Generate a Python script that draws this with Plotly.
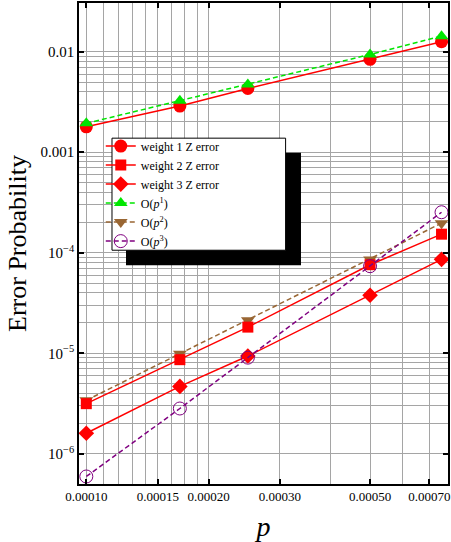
import plotly.graph_objects as go

# ---------------- data ----------------
p_vals = [1.0e-4, 1.7e-4, 2.5e-4, 5.0e-4, 7.5e-4]

weight1 = [1.79e-3, 2.88e-3, 4.31e-3, 8.4e-3, 1.26e-2]
weight2 = [3.15e-6, 8.63e-6, 1.82e-5, 7.6e-5, 1.53e-4]
weight3 = [1.6e-6, 4.68e-6, 9.38e-6, 3.78e-5, 8.6e-5]
order1 = [1.94e-3, 3.25e-3, 4.73e-3, 9.4e-3, 1.43e-2]
order2 = [3.4e-6, 9.9e-6, 2.13e-5, 8.55e-5, 1.97e-4]
order3 = [5.94e-7, 2.82e-6, 9.04e-6, 7.35e-5, 2.53e-4]

x_tick_vals = [1e-4, 1.5e-4, 2e-4, 3e-4, 5e-4, 7e-4]
x_tick_text = ["0.00010", "0.00015", "0.00020", "0.00030", "0.00050", "0.00070"]
x_grid_vals = [1.1e-4, 1.2e-4, 1.3e-4, 1.4e-4, 1.625e-4, 1.75e-4, 1.875e-4, 4e-4, 6e-4]

y_tick_vals = [1e-2, 1e-3, 1e-4, 1e-5, 1e-6]
y_tick_text = ["0.01", "0.001", "10<sup>\u22124</sup>", "10<sup>\u22125</sup>", "10<sup>\u22126</sup>"]
y_grid_vals = [k * 10.0 ** e for e in range(-6, -2) for k in range(2, 10)]

FONT = "Liberation Serif"
RED = "rgb(255,0,0)"
GREEN = "rgb(0,230,0)"
BROWN = "rgb(153,102,51)"
PURPLE = "rgb(128,0,128)"

fig = go.Figure()

def add(name, y, color, symbol, size, dash, rank):
    marker = dict(symbol=symbol, size=size, color=color)
    if symbol.endswith("-open"):
        marker["line"] = dict(color=color, width=1)
    fig.add_trace(go.Scatter(
        x=p_vals, y=y, name=name, mode="lines+markers",
        line=dict(color=color, width=1.5, dash=dash),
        marker=marker, legendrank=rank))

# drawing order (later on top)
add("weight 1 Z error", weight1, RED, "circle", 13, "solid", 1)
add("O(<i>p</i><sup>1</sup>)", order1, GREEN, "triangle-up", 12, "5px,3px", 4)
add("O(<i>p</i><sup>2</sup>)", order2, BROWN, "triangle-down", 12, "5px,3px", 5)
add("weight 2 Z error", weight2, RED, "square", 11, "solid", 2)
add("weight 3 Z error", weight3, RED, "diamond", 12, "solid", 3)
add("O(<i>p</i><sup>3</sup>)", order3, PURPLE, "circle-open", 13, "5px,3px", 6)

GRID = "rgb(165,165,165)"

fig.update_layout(
    width=451, height=542,
    margin=dict(l=79, r=3, t=3, b=58),
    paper_bgcolor="white", plot_bgcolor="white",
    font=dict(family=FONT, color="black"),
    showlegend=True,
    legend=dict(x=0.059, y=0.7326, xanchor="left", yanchor="top",
                bgcolor="rgba(0,0,0,0)", borderwidth=0,
                font=dict(family=FONT, size=12, color="black"),
                itemwidth=30, tracegroupgap=0),
    xaxis=dict(type="log", range=[-4.018, -3.109], automargin=False,
               tickmode="array", tickvals=x_tick_vals, ticktext=x_tick_text,
               tickfont=dict(family=FONT, size=13),
               ticks="inside", ticklen=5, tickwidth=1.5, tickcolor="black",
               showline=True, linecolor="black", linewidth=1.5, mirror="ticks",
               showgrid=True, gridcolor=GRID, gridwidth=1,
               minor=dict(tickmode="array", tickvals=x_grid_vals, showgrid=True,
                          gridcolor=GRID, gridwidth=1, ticks=""),
               zeroline=False,
               title=dict(text="<i>p</i>", font=dict(family=FONT, size=28), standoff=13)),
    yaxis=dict(type="log", range=[-6.301, -1.515], automargin=False,
               tickmode="array", tickvals=y_tick_vals, ticktext=y_tick_text,
               tickfont=dict(family=FONT, size=15),
               ticks="inside", ticklen=5, tickwidth=1.5, tickcolor="black",
               showline=True, linecolor="black", linewidth=1.5, mirror="ticks",
               showgrid=True, gridcolor=GRID, gridwidth=1,
               minor=dict(tickmode="array", tickvals=y_grid_vals, showgrid=True,
                          gridcolor=GRID, gridwidth=1, ticks=""),
               zeroline=False,
               title=dict(text="Error Probability", font=dict(family=FONT, size=26), standoff=6)),
)

# legend frame with drop shadow
fig.add_shape(type="rect", xref="paper", yref="paper", layer="above",
              x0=0.1274, x1=0.6016, y0=0.4547, y1=0.6885,
              fillcolor="black", line=dict(width=0))
fig.add_shape(type="rect", xref="paper", yref="paper", layer="above",
              x0=0.0894, x1=0.5599, y0=0.4860, y1=0.7190,
              fillcolor="white", line=dict(color="black", width=1))

fig.write_html("out.html", config={"displayModeBar": False},
               post_script="document.body.style.margin='0';")
